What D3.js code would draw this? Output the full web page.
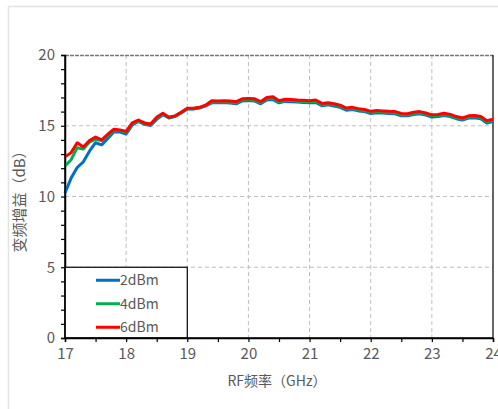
<!DOCTYPE html>
<html>
<head>
<meta charset="utf-8">
<script src="https://cdn.jsdelivr.net/npm/d3@7"></script>
<style>
  body { margin: 0; background: #fff; }
  svg text { font-family: "Noto Sans CJK SC", "DejaVu Sans", sans-serif; fill: #595959; }
</style>
</head>
<body>
<div id="chart"></div>
<script>
// RF frequency (GHz), step 0.1
const freqs = d3.range(0, 71).map(i => +(17 + i * 0.1).toFixed(1));

const gain2dBm = [10.25, 11.3, 12.05, 12.45, 13.2, 13.8, 13.65, 14.1, 14.58, 14.55,
  14.42, 15.05, 15.3, 15.1, 15.02, 15.45, 15.78, 15.55, 15.65, 15.9,
  16.18, 16.18, 16.25, 16.4, 16.62, 16.62, 16.65, 16.6, 16.55, 16.75,
  16.78, 16.75, 16.55, 16.82, 16.85, 16.62, 16.72, 16.7, 16.68, 16.65,
  16.62, 16.65, 16.42, 16.48, 16.4, 16.3, 16.1, 16.15, 16.05, 16.0,
  15.87, 15.92, 15.9, 15.87, 15.85, 15.7, 15.7, 15.8, 15.85, 15.75,
  15.62, 15.65, 15.72, 15.65, 15.5, 15.4, 15.55, 15.57, 15.5, 15.2, 15.3];

const gain4dBm = [12.15, 12.6, 13.45, 13.35, 13.85, 14.05, 13.95, 14.3, 14.7, 14.65,
  14.55, 15.15, 15.35, 15.15, 15.08, 15.55, 15.83, 15.58, 15.68, 15.93,
  16.2, 16.2, 16.28, 16.43, 16.7, 16.68, 16.7, 16.68, 16.62, 16.82,
  16.85, 16.82, 16.62, 16.9, 16.95, 16.7, 16.8, 16.78, 16.75, 16.72,
  16.7, 16.73, 16.5, 16.55, 16.48, 16.38, 16.18, 16.22, 16.12, 16.08,
  15.95, 16.0, 15.98, 15.95, 15.92, 15.78, 15.78, 15.88, 15.92, 15.82,
  15.7, 15.72, 15.8, 15.72, 15.58, 15.48, 15.62, 15.65, 15.58, 15.28, 15.38];

const gain6dBm = [12.8, 13.1, 13.8, 13.5, 13.95, 14.2, 14.0, 14.4, 14.75, 14.7,
  14.6, 15.2, 15.4, 15.2, 15.12, 15.6, 15.88, 15.6, 15.7, 15.95,
  16.23, 16.23, 16.3, 16.45, 16.77, 16.75, 16.77, 16.75, 16.7, 16.9,
  16.92, 16.9, 16.7, 17.0, 17.05, 16.77, 16.87, 16.85, 16.82, 16.8,
  16.77, 16.82, 16.58, 16.63, 16.55, 16.45, 16.25, 16.3, 16.2, 16.15,
  16.02, 16.07, 16.05, 16.02, 16.0, 15.87, 15.85, 15.95, 16.0, 15.9,
  15.77, 15.8, 15.88, 15.8, 15.65, 15.55, 15.7, 15.72, 15.65, 15.36, 15.46];

const seriesNames = ['2dBm', '4dBm', '6dBm'];
const seriesColors = ['#0070C0', '#00B050', '#FF0000'];
const xTicks = [17, 18, 19, 20, 21, 22, 23, 24];
const yTicks = [0, 5, 10, 15, 20];

const width = 498, height = 409;
const margin = {top: 55, right: 5, bottom: 71, left: 65};
const innerW = width - margin.left - margin.right;
const innerH = height - margin.top - margin.bottom;

const svg = d3.select('#chart').append('svg')
  .attr('width', width).attr('height', height);

// outer frame lines
svg.append('line').attr('x1', 8).attr('x2', width).attr('y1', 6.5).attr('y2', 6.5)
  .attr('stroke', '#e3e3e3').attr('stroke-width', 1.5);
svg.append('line').attr('x1', 8.5).attr('x2', 8.5).attr('y1', 6).attr('y2', height)
  .attr('stroke', '#e3e3e3').attr('stroke-width', 1.5);

const g = svg.append('g').attr('transform', `translate(${margin.left},${margin.top})`);

const x = d3.scaleLinear().domain([17, 24]).range([0, innerW]);
const y = d3.scaleLinear().domain([0, 20]).range([innerH, 0]);

// grid
g.selectAll('.vgrid').data(xTicks.slice(1, -1)).enter().append('line')
  .attr('x1', d => x(d)).attr('x2', d => x(d)).attr('y1', 0).attr('y2', innerH)
  .attr('stroke', '#bfbfbf').attr('stroke-dasharray', '4,3');
g.selectAll('.hgrid').data(yTicks.slice(1, -1)).enter().append('line')
  .attr('x1', 0).attr('x2', innerW).attr('y1', d => y(d)).attr('y2', d => y(d))
  .attr('stroke', '#bfbfbf').attr('stroke-dasharray', '4,3');

// top border and right border
g.append('line').attr('x1', 0).attr('x2', innerW).attr('y1', 0.5).attr('y2', 0.5)
  .attr('stroke', '#777').attr('stroke-width', 1.5).attr('stroke-dasharray', '4,1');
g.append('line').attr('x1', innerW).attr('x2', innerW).attr('y1', 0).attr('y2', innerH)
  .attr('stroke', '#000').attr('stroke-width', 1.2);

// axes
const xAxis = g.append('g').attr('transform', `translate(0,${innerH})`)
  .call(d3.axisBottom(x).tickValues(d3.range(17, 24.01, 0.5)).tickSize(4)
    .tickFormat(d => Number.isInteger(d) ? d : ''));
const yAxis = g.append('g')
  .call(d3.axisLeft(y).tickValues(d3.range(0, 21, 1)).tickSize(4)
    .tickFormat(d => d % 5 === 0 ? d : ''));

[xAxis, yAxis].forEach(a => {
  a.select('.domain').attr('stroke', '#000').attr('stroke-width', 1.5);
  a.selectAll('.tick line').attr('stroke', '#000').attr('stroke-width', 1.2);
  a.selectAll('.tick text').attr('font-size', 15).attr('fill', '#595959');
});
xAxis.selectAll('.tick text').attr('dy', '1em').attr('y', 6);
yAxis.selectAll('.tick text').attr('x', -10);

// lines
const lineGen = d3.line().x((d, i) => x(freqs[i])).y(d => y(d));
[gain2dBm, gain4dBm, gain6dBm].forEach((s, i) => {
  g.append('path').datum(s)
    .attr('fill', 'none').attr('stroke', seriesColors[i])
    .attr('stroke-width', 3).attr('stroke-linejoin', 'round')
    .attr('d', lineGen);
});

// legend box
const lg = g.append('g');
lg.append('rect').attr('x', 0).attr('y', y(5)).attr('width', x(19)).attr('height', innerH - y(5))
  .attr('fill', '#fff').attr('stroke', '#000').attr('stroke-width', 1.2);
seriesNames.forEach((name, i) => {
  const ly = y(5) + 13 + i * 23.5;
  lg.append('line').attr('x1', 31).attr('x2', 55).attr('y1', ly).attr('y2', ly)
    .attr('stroke', seriesColors[i]).attr('stroke-width', 3);
  lg.append('text').attr('x', 55).attr('y', ly).attr('dy', '0.35em')
    .attr('font-size', 14).text(name);
});
// redraw axis lines over legend
g.append('line').attr('x1', 0).attr('x2', 0).attr('y1', 0).attr('y2', innerH)
  .attr('stroke', '#000').attr('stroke-width', 1.5);
g.append('line').attr('x1', 0).attr('x2', innerW).attr('y1', innerH).attr('y2', innerH)
  .attr('stroke', '#000').attr('stroke-width', 1.5);

// axis titles
svg.append('text').attr('x', 277).attr('y', 386)
  .attr('text-anchor', 'middle').attr('font-size', 14).text('RF频率（GHz）');
svg.append('text')
  .attr('transform', `translate(25,198) rotate(-90)`)
  .attr('text-anchor', 'middle').attr('font-size', 15).text('变频增益（dB）');
</script>
</body>
</html>
